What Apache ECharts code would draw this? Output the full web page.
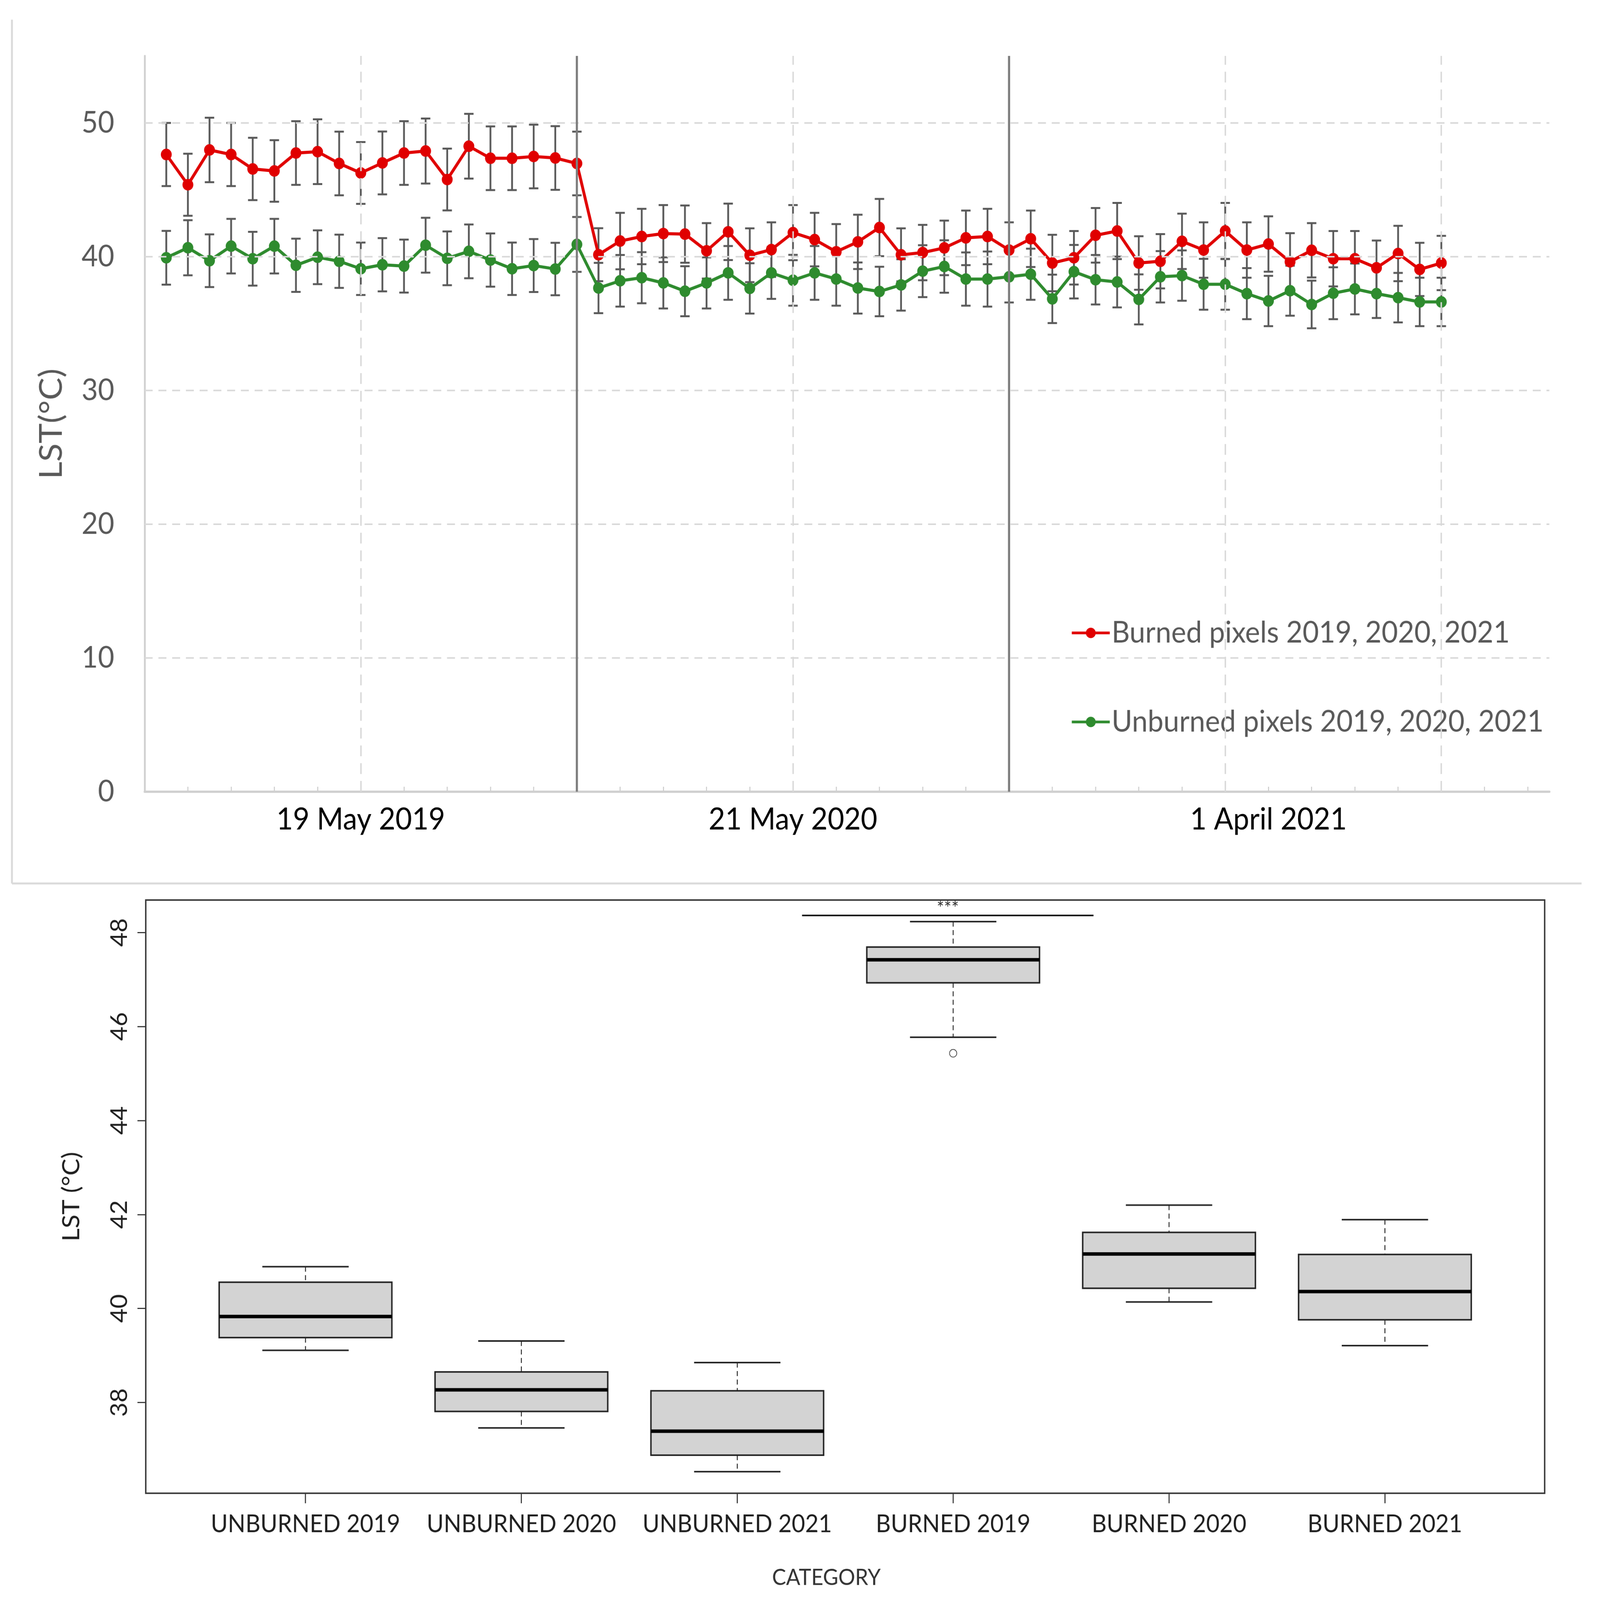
<!DOCTYPE html>
<html>
<head>
<meta charset="utf-8">
<script src="https://cdn.jsdelivr.net/npm/echarts/dist/echarts.min.js"></script>
<style>
html,body{margin:0;padding:0;background:#fff;width:100%;height:100%;overflow:hidden;}
#chart{position:absolute;left:0;top:0;width:4424px;height:4151px;transform-origin:0 0;}
</style>
</head>
<body>
<div id="chart"></div>
<script>
// ---------- Top chart data (LST time series) ----------
const burnedName = 'Burned pixels 2019, 2020, 2021';
const unburnedName = 'Unburned pixels 2019, 2020, 2021';

const burnedMean = [
  47.63,45.37,47.97,47.63,46.55,46.40,47.74,47.84,46.96,46.25,47.00,47.74,47.89,45.76,48.25,47.35,47.35,47.48,47.37,46.96,
  40.14,41.16,41.50,41.72,41.68,40.43,41.85,40.10,40.52,41.79,41.27,40.36,41.10,42.17,40.13,40.30,40.65,41.40,41.50,40.49,
  41.33,39.52,39.91,41.59,41.91,39.52,39.65,41.14,40.49,41.91,40.49,40.94,39.61,40.47,39.84,39.84,39.16,40.23,39.04,39.52
];
const burnedErr = [
  2.36,2.32,2.41,2.36,2.33,2.30,2.38,2.42,2.38,2.31,2.35,2.38,2.43,2.31,2.42,2.38,2.38,2.38,2.38,2.38,
  1.98,2.11,2.07,2.13,2.14,2.07,2.11,2.01,2.04,2.06,2.00,2.07,2.03,2.14,1.98,2.07,2.04,2.04,2.07,2.07,
  2.11,2.11,2.00,2.04,2.10,2.00,2.03,2.07,2.07,2.10,2.07,2.07,2.14,2.03,2.07,2.07,2.04,2.07,1.99,2.03
];
const unburnedMean = [
  39.91,40.66,39.69,40.78,39.84,40.78,39.35,39.95,39.65,39.09,39.39,39.29,40.85,39.87,40.39,39.74,39.09,39.33,39.07,40.91,
  37.65,38.19,38.42,38.03,37.41,38.03,38.78,37.62,38.78,38.23,38.78,38.32,37.65,37.39,37.88,38.91,39.26,38.32,38.32,38.49,
  38.68,36.84,38.87,38.27,38.10,36.80,38.49,38.58,37.93,37.93,37.23,36.68,37.45,36.42,37.26,37.58,37.23,36.93,36.61,36.61
];
const unburnedErr = [
  2.01,2.06,1.97,2.04,2.01,2.04,1.99,2.01,1.99,1.96,1.99,1.98,2.05,2.01,2.01,1.99,1.96,1.98,1.96,2.05,
  1.88,1.93,1.91,1.91,1.87,1.91,2.01,1.88,1.94,1.90,2.01,1.99,1.91,1.85,1.92,1.94,1.96,1.99,2.06,1.92,
  1.91,1.81,2.00,1.85,1.90,1.87,1.92,1.88,1.90,1.90,1.91,1.88,1.87,1.78,1.94,1.90,1.82,1.85,1.81,1.81
];
const yTicksTop = [0, 10, 20, 30, 40, 50];
const dateLabelPos = [10, 30, 52];
const dateLabels = ['19 May 2019', '21 May 2020', '1 April 2021'];
const dashedVerticalAt = [10, 30, 50, 60];
const yearBreaksAt = [20, 40];

// ---------- Bottom chart data (boxplot) ----------
const boxCategories = ['UNBURNED 2019','UNBURNED 2020','UNBURNED 2021','BURNED 2019','BURNED 2020','BURNED 2021'];
const boxLow    = [39.11, 37.46, 36.53, 45.77, 40.14, 39.21];
const boxQ1     = [39.38, 37.81, 36.88, 46.93, 40.43, 39.76];
const boxMedian = [39.83, 38.27, 37.39, 47.42, 41.16, 40.36];
const boxQ3     = [40.56, 38.65, 38.25, 47.69, 41.62, 41.15];
const boxHigh   = [40.89, 39.31, 38.85, 48.23, 42.20, 41.89];
const outlierCategory = [4];
const outlierValue = [45.43];
const yTicksBottom = [38, 40, 42, 44, 46, 48];
const sigBar = { from: 3.3, to: 4.65, y: 48.36, text: '***' };

// ---------- Build series data ----------
const burnedPts = burnedMean.map((v, i) => [i + 1, v]);
const unburnedPts = unburnedMean.map((v, i) => [i + 1, v]);
const burnedErrPts = burnedMean.map((v, i) => [i + 1, v, burnedErr[i]]);
const unburnedErrPts = unburnedMean.map((v, i) => [i + 1, v, unburnedErr[i]]);
const boxData = boxCategories.map((c, i) => [i + 1, boxLow[i], boxQ1[i], boxMedian[i], boxQ3[i], boxHigh[i]]);
const outlierData = outlierCategory.map((c, i) => [c, outlierValue[i]]);
const xTickValues = [];
for (let t = 2; t <= 64; t += 2) xTickValues.push(t);

const FONT = 'Lato';

// Fit the 4424x4151 design into whatever viewport the browser actually has.
(function fitToWindow() {
  const el = document.getElementById('chart');
  const W = window.innerWidth || 4424, H = window.innerHeight || 4151;
  el.style.transform = 'scale(' + (W / 4424) + ',' + (H / 4151) + ')';
})();

function renderErr(params, api) {
  const x = api.value(0), v = api.value(1), e = api.value(2);
  const top = api.coord([x, v + e]);
  const bot = api.coord([x, v - e]);
  const half = 13;
  const style = { stroke: '#595959', lineWidth: 5 };
  return {
    type: 'group',
    children: [
      { type: 'line', shape: { x1: top[0], y1: top[1], x2: bot[0], y2: bot[1] }, style: style },
      { type: 'line', shape: { x1: top[0] - half, y1: top[1], x2: top[0] + half, y2: top[1] }, style: style },
      { type: 'line', shape: { x1: bot[0] - half, y1: bot[1], x2: bot[0] + half, y2: bot[1] }, style: style }
    ]
  };
}

function renderBox(params, api) {
  const c = api.value(0);
  const pLo = api.coord([c, api.value(1)]);
  const pQ1 = api.coord([c, api.value(2)]);
  const pMd = api.coord([c, api.value(3)]);
  const pQ3 = api.coord([c, api.value(4)]);
  const pHi = api.coord([c, api.value(5)]);
  const w = api.size([0.8, 0])[0];
  const cw = w / 4;
  const x = pLo[0];
  const dash = { stroke: '#222', lineWidth: 2.5, lineDash: [13, 9], fill: null };
  const solid = { stroke: '#222', lineWidth: 4 };
  return {
    type: 'group',
    children: [
      { type: 'line', shape: { x1: x, y1: pHi[1], x2: x, y2: pQ3[1] }, style: dash },
      { type: 'line', shape: { x1: x, y1: pQ1[1], x2: x, y2: pLo[1] }, style: dash },
      { type: 'line', shape: { x1: x - cw, y1: pHi[1], x2: x + cw, y2: pHi[1] }, style: solid },
      { type: 'line', shape: { x1: x - cw, y1: pLo[1], x2: x + cw, y2: pLo[1] }, style: solid },
      { type: 'rect', shape: { x: x - w / 2, y: pQ3[1], width: w, height: pQ1[1] - pQ3[1] },
        style: { fill: '#d3d3d3', stroke: '#222', lineWidth: 4 } },
      { type: 'line', shape: { x1: x - w / 2, y1: pMd[1], x2: x + w / 2, y2: pMd[1] },
        style: { stroke: '#000', lineWidth: 9 } }
    ]
  };
}

const chart = echarts.init(document.getElementById('chart'), null, { renderer: 'canvas', width: 4424, height: 4151 });

const gridLineData = [];
[10, 20, 30, 40, 50].forEach(v => gridLineData.push({ yAxis: v }));
dashedVerticalAt.forEach(v => gridLineData.push({ xAxis: v, lineStyle: { type: [28, 18] } }));

const option = {
  animation: false,
  backgroundColor: '#fff',
  textStyle: { fontFamily: FONT },
  graphic: [
    { type: 'line', shape: { x1: 33, y1: 51, x2: 33, y2: 2292 }, style: { stroke: '#d9d9d9', lineWidth: 5 } },
    { type: 'line', shape: { x1: 33, y1: 2292, x2: 4373, y2: 2292 }, style: { stroke: '#d9d9d9', lineWidth: 5 } }
  ],
  legend: [
    {
      data: [burnedName], selectedMode: false, orient: 'vertical',
      left: 2960, top: 1597, padding: 0, itemWidth: 105, itemHeight: 34,
      lineStyle: { width: 7 },
      textStyle: { fontSize: 78, color: '#595959', fontFamily: FONT, lineHeight: 90 }
    },
    {
      data: [unburnedName], selectedMode: false, orient: 'vertical',
      left: 2960, top: 1828, padding: 0, itemWidth: 105, itemHeight: 34,
      lineStyle: { width: 7 },
      textStyle: { fontSize: 78, color: '#595959', fontFamily: FONT, lineHeight: 90 }
    }
  ],
  grid: [
    { left: 400, top: 145, width: 3884, height: 1909, show: false },
    { left: 403, top: 2335, width: 3868, height: 1539, show: true, borderColor: '#3a3a3a', borderWidth: 4, backgroundColor: 'transparent' }
  ],
  xAxis: [
    {
      gridIndex: 0, type: 'value', min: 0, max: 65, interval: 2,
      axisLine: { show: true, lineStyle: { color: '#d0d0d0', width: 6 } },
      axisTick: { show: true, inside: true, length: 13, customValues: xTickValues, lineStyle: { color: '#d0d0d0', width: 3 } },
      axisLabel: {
        show: true, customValues: dateLabelPos, margin: 33, fontSize: 79, color: '#000', fontFamily: FONT,
        formatter: function (v) { const k = dateLabelPos.indexOf(v); return k >= 0 ? dateLabels[k] : ''; }
      },
      splitLine: { show: false }
    },
    {
      gridIndex: 1, type: 'value', min: 0.26, max: 6.74,
      axisLine: { show: false },
      axisTick: { show: true, length: 26, customValues: [1, 2, 3, 4, 5, 6], lineStyle: { color: '#3a3a3a', width: 3 } },
      axisLabel: {
        show: true, customValues: [1, 2, 3, 4, 5, 6], margin: 48, fontSize: 64, color: '#1f1f1f', fontFamily: FONT,
        formatter: function (v) { return boxCategories[Math.round(v) - 1] || ''; }
      },
      splitLine: { show: false },
      name: 'CATEGORY', nameLocation: 'middle', nameGap: 190,
      nameTextStyle: { fontSize: 58, color: '#333', fontFamily: FONT, padding: [0, 104, 0, 0] }
    }
  ],
  yAxis: [
    {
      gridIndex: 0, type: 'value', min: 0, max: 55, interval: 10,
      axisLine: { show: true, lineStyle: { color: '#d0d0d0', width: 5 } },
      axisTick: { show: false, customValues: yTicksTop },
      axisLabel: {
        show: true, customValues: yTicksTop, margin: 84, fontSize: 78, color: '#595959', fontFamily: FONT,
        formatter: function (v) { return v > 50 ? '' : String(v); }
      },
      splitLine: { show: false },
      name: 'LST(°C)', nameLocation: 'middle', nameGap: 213,
      nameTextStyle: { fontSize: 88, color: '#595959', fontFamily: FONT }
    },
    {
      gridIndex: 1, type: 'value', min: 36.07, max: 48.69,
      axisLine: { show: false },
      axisTick: { show: true, length: 23, customValues: yTicksBottom, lineStyle: { color: '#3a3a3a', width: 3 } },
      axisLabel: { show: true, customValues: yTicksBottom, rotate: 90, margin: 41, fontSize: 64, color: '#1f1f1f', fontFamily: FONT },
      splitLine: { show: false },
      name: 'LST (°C)', nameLocation: 'middle', nameGap: 172,
      nameTextStyle: { fontSize: 66, color: '#1f1f1f', fontFamily: FONT }
    }
  ],
  series: [
    {
      name: 'gridHelper', type: 'line', xAxisIndex: 0, yAxisIndex: 0, data: [], z: 1, silent: true,
      markLine: {
        silent: true, symbol: ['none', 'none'], label: { show: false },
        lineStyle: { color: '#d9d9d9', width: 4, type: [22, 16] },
        data: gridLineData
      }
    },
    {
      name: 'burnedErr', type: 'custom', xAxisIndex: 0, yAxisIndex: 0, z: 2, silent: true,
      renderItem: renderErr, data: burnedErrPts, encode: { x: 0, y: 1 }
    },
    {
      name: 'unburnedErr', type: 'custom', xAxisIndex: 0, yAxisIndex: 0, z: 2, silent: true,
      renderItem: renderErr, data: unburnedErrPts, encode: { x: 0, y: 1 }
    },
    {
      name: unburnedName, type: 'line', xAxisIndex: 0, yAxisIndex: 0, z: 3,
      data: unburnedPts, symbol: 'circle', symbolSize: 30, showSymbol: true,
      lineStyle: { color: '#2e8b2e', width: 8 }, itemStyle: { color: '#2e8b2e' }
    },
    {
      name: burnedName, type: 'line', xAxisIndex: 0, yAxisIndex: 0, z: 3,
      data: burnedPts, symbol: 'circle', symbolSize: 30, showSymbol: true,
      lineStyle: { color: '#e00000', width: 8 }, itemStyle: { color: '#e00000' }
    },
    {
      name: 'yearBreaks', type: 'line', xAxisIndex: 0, yAxisIndex: 0, data: [], z: 5, silent: true,
      markLine: {
        silent: true, symbol: ['none', 'none'], label: { show: false },
        lineStyle: { color: '#7f7f7f', width: 6, type: 'solid' },
        data: yearBreaksAt.map(v => ({ xAxis: v }))
      }
    },
    {
      name: 'boxes', type: 'custom', xAxisIndex: 1, yAxisIndex: 1, z: 2, silent: true,
      renderItem: renderBox, data: boxData, encode: { x: 0, y: [1, 2, 3, 4, 5] },
      markLine: {
        silent: true, symbol: ['none', 'none'],
        lineStyle: { color: '#111', width: 4, type: 'solid' },
        label: { show: true, position: 'middle', formatter: sigBar.text, fontSize: 48, color: '#333', distance: -6, fontFamily: FONT },
        data: [[{ coord: [sigBar.from, sigBar.y] }, { coord: [sigBar.to, sigBar.y] }]]
      }
    },
    {
      name: 'outliers', type: 'scatter', xAxisIndex: 1, yAxisIndex: 1, z: 6, silent: true,
      data: outlierData, symbol: 'emptyCircle', symbolSize: 20,
      itemStyle: { color: '#222', borderColor: '#222', borderWidth: 2.5 }
    }
  ]
};
chart.setOption(option);
</script>
</body>
</html>
